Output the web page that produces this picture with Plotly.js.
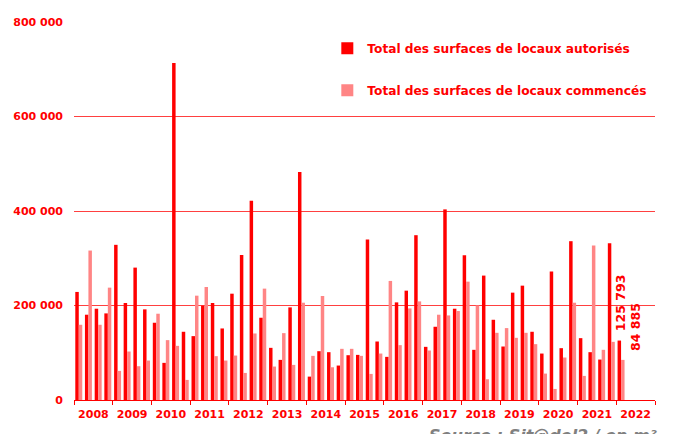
<!DOCTYPE html>
<html>
<head>
<meta charset="utf-8">
<script src="https://cdn.plot.ly/plotly-3.0.1.min.js"></script>
<style>html,body{margin:0;padding:0;background:#fff;}#chart{width:678px;height:434px;}</style>
</head>
<body>
<div id="chart"></div>
<script>
// Quarterly periods: 2008 Q1 .. 2022 Q1
const years = [2008,2009,2010,2011,2012,2013,2014,2015,2016,2017,2018,2019,2020,2021,2022];
const quarterMidDates = ['02-15','05-16','08-16','11-15'];

// Total des surfaces de locaux autorisés (m²)
const autorises = [
  228700, 180500, 193200, 183300,
  328400, 205300, 280200, 191800,
  163500,  78600, 713000, 144400,
  135200, 199600, 205300, 151400,
  225000, 307100, 421800, 174100,
  110400,  84900, 196000, 482600,
   49500, 103300, 101200,  72900,
   94800,  95500, 339700, 123800,
   91300, 206600, 231400, 348800,
  112500, 155000, 403400, 193200,
  306400, 106200, 263300, 169800,
  113200, 227200, 242000, 144400,
   98300, 271700, 109700, 336100,
  130900, 101200,  85600, 331800,
  125793
];

// Total des surfaces de locaux commencés (m²)
const commences = [
  159200, 316300, 159200, 237800,
   61600, 102600,  71500,  83500,
  182600, 126700, 114600,  42500,
  220800, 239200,  92800,  83500,
   94100,  57300, 140800, 235700,
   70800, 141500,  74300, 205900,
   93400, 220100,  69300, 108300,
  108300,  93400,  55200,  98300,
  252000, 116100, 193800, 208700,
  104700, 180500, 179000, 188300,
  250500, 200200,  43900, 142200,
  152200, 131600, 142200, 118200,
   55900,  23400,  89900, 205900,
   51000, 326900, 106200, 123100,
   84885
];

const seriesNames = ['Total des surfaces de locaux autorisés', 'Total des surfaces de locaux commencés'];
const sourceText = 'Source : Sit@del2 / en m²';

const RED = '#FF0000';
const PINK = '#FF8585';
const FONT = 'DejaVu Sans';

// build x positions (mid-quarter dates) for each value
const xDates = [];
for (const y of years) {
  for (const q of quarterMidDates) {
    if (xDates.length < autorises.length) xDates.push(y + '-' + q);
  }
}

function fmt(v) { return String(v).replace(/\B(?=(\d{3})+(?!\d))/g, ' '); }

const last = autorises.length - 1;

const traces = [
  {type:'bar', x:xDates, y:autorises, name:seriesNames[0], marker:{color:RED}, legendgroup:'a', hoverinfo:'skip'},
  {type:'bar', x:xDates, y:commences, name:seriesNames[1], marker:{color:PINK}, legendgroup:'b', hoverinfo:'skip'}
];

const layout = {
  width:678, height:434,
  margin:{l:74, r:23, t:22, b:34},
  paper_bgcolor:'#fff', plot_bgcolor:'#fff',
  separators:', ',
  barmode:'group', bargap:0.27, bargroupgap:0,
  font:{family:FONT, color:RED, size:11, weight:700},
  showlegend:true,
  legend:{x:0.436, y:0.969, xanchor:'left', yanchor:'top', bgcolor:'rgba(0,0,0,0)',
          font:{family:FONT, size:12.2, color:RED, weight:700}, tracegroupgap:23, itemclick:false},
  xaxis:{type:'date', range:['2008-01-01','2023-01-01'], tick0:'2008-01-01', dtick:'M12',
         tickformat:'%Y', ticklabelmode:'period', ticks:'outside', ticklen:4, tickcolor:RED,
         showline:true, linecolor:RED, linewidth:1, showgrid:false, zeroline:false,
         tickfont:{family:FONT, size:11, color:RED, weight:700}, fixedrange:true},
  yaxis:{range:[0,800000], tickvals:[0,200000,400000,600000,800000], tickformat:',.0f',
         showgrid:true, gridcolor:'rgba(255,30,30,0.85)', gridwidth:1, zeroline:false,
         showline:false, ticks:'', ticklabelstandoff:10,
         tickfont:{family:FONT, size:11, color:RED, weight:700}, fixedrange:true},
  annotations:[
    {x:xDates[last], y:autorises[last], xref:'x', yref:'y', text:fmt(autorises[last]), showarrow:false,
     textangle:-90, xanchor:'center', yanchor:'bottom', xshift:-1, yshift:7,
     font:{family:FONT, size:12.5, color:RED, weight:700}},
    {x:xDates[last], y:commences[last], xref:'x', yref:'y', text:fmt(commences[last]), showarrow:false,
     textangle:-90, xanchor:'center', yanchor:'bottom', xshift:15, yshift:7,
     font:{family:FONT, size:12.5, color:RED, weight:700}},
    {x:0.607, y:0, xref:'paper', yref:'paper', text:sourceText, showarrow:false,
     xanchor:'left', yanchor:'top', yshift:-24,
     font:{family:FONT, size:16, color:'#808080', style:'italic', weight:700}}
  ]
};

Plotly.newPlot('chart', traces, layout, {displayModeBar:false, staticPlot:true});
</script>
</body>
</html>
